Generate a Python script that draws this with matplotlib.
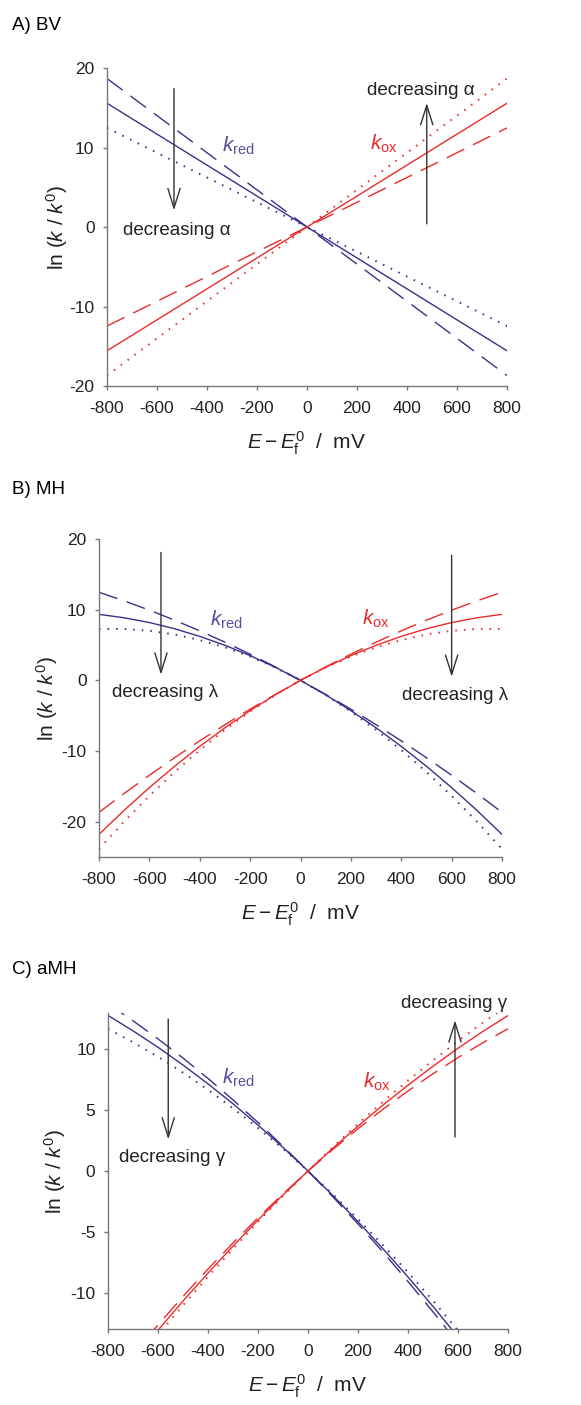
import numpy as np
import matplotlib
matplotlib.use("Agg")
from matplotlib import pyplot as plt

plt.rcParams['font.family'] = ['Liberation Sans', 'DejaVu Sans']
plt.rcParams['mathtext.fontset'] = 'custom'
plt.rcParams['mathtext.rm'] = 'Liberation Sans'
plt.rcParams['mathtext.it'] = 'Liberation Sans:italic'
plt.rcParams['axes.unicode_minus'] = False

# %% potenciales (mV)
E_mV = [-800, -700, -600, -500, -400, -300, -200, -100, 0,
        100, 200, 300, 400, 500, 600, 700, 800]

# %% A) Butler-Volmer, alpha = 0.6 / 0.5 / 0.4
bv_red_a06 = [18.68, 16.34, 14.01, 11.68, 9.34, 7.01, 4.67, 2.34, 0,
              -2.34, -4.67, -7.01, -9.34, -11.68, -14.01, -16.34, -18.68]
bv_red_a05 = [15.57, 13.62, 11.68, 9.73, 7.78, 5.84, 3.89, 1.95, 0,
              -1.95, -3.89, -5.84, -7.78, -9.73, -11.68, -13.62, -15.57]
bv_red_a04 = [12.46, 10.90, 9.34, 7.78, 6.23, 4.67, 3.11, 1.56, 0,
              -1.56, -3.11, -4.67, -6.23, -7.78, -9.34, -10.90, -12.46]
bv_ox_a06 = [-12.46, -10.90, -9.34, -7.78, -6.23, -4.67, -3.11, -1.56, 0,
             1.56, 3.11, 4.67, 6.23, 7.78, 9.34, 10.90, 12.46]
bv_ox_a05 = [-15.57, -13.62, -11.68, -9.73, -7.78, -5.84, -3.89, -1.95, 0,
             1.95, 3.89, 5.84, 7.78, 9.73, 11.68, 13.62, 15.57]
bv_ox_a04 = [-18.68, -16.34, -14.01, -11.68, -9.34, -7.01, -4.67, -2.34, 0,
             2.34, 4.67, 7.01, 9.34, 11.68, 14.01, 16.34, 18.68]

# %% B) Marcus-Hush, lambda = 2 / 1 / 0.75 eV
mh_red_l2 = [12.46, 11.24, 9.93, 8.51, 7.00, 5.40, 3.70, 1.90, 0,
             -2.00, -4.08, -6.28, -8.56, -10.95, -13.43, -16.00, -18.68]
mh_red_l1 = [9.34, 8.85, 8.18, 7.30, 6.22, 4.96, 3.50, 1.85, 0,
             -2.05, -4.28, -6.72, -9.34, -12.16, -15.18, -18.39, -21.80]
mh_red_l075 = [7.27, 7.27, 7.01, 6.49, 5.70, 4.67, 3.37, 1.82, 0,
               -2.08, -4.41, -7.01, -9.86, -12.97, -16.35, -19.97, -23.87]
mh_ox_l2 = [-18.68, -16.00, -13.43, -10.95, -8.56, -6.28, -4.08, -2.00, 0,
            1.90, 3.70, 5.40, 7.00, 8.51, 9.93, 11.24, 12.46]
mh_ox_l1 = [-21.80, -18.39, -15.18, -12.16, -9.34, -6.72, -4.28, -2.05, 0,
            1.85, 3.50, 4.96, 6.22, 7.30, 8.18, 8.85, 9.34]
mh_ox_l075 = [-23.87, -19.97, -16.35, -12.97, -9.86, -7.01, -4.41, -2.08, 0,
              1.82, 3.37, 4.67, 5.70, 6.49, 7.01, 7.27, 7.27]

# %% C) MH asimetrico, gamma alto / medio / bajo
amh_red_g1 = [13.76, 12.36, 10.87, 9.29, 7.62, 5.85, 3.99, 2.04, 0,
              -2.14, -4.35, -6.67, -9.09, -11.59, -14.17, -16.86, -19.64]
amh_red_g2 = [12.80, 11.53, 10.18, 8.72, 7.17, 5.53, 3.78, 1.94, 0,
              -2.03, -4.17, -6.40, -8.72, -11.14, -13.66, -16.28, -19.00]
amh_red_g3 = [11.70, 10.59, 9.40, 8.09, 6.68, 5.16, 3.54, 1.83, 0,
              -1.93, -3.96, -6.10, -8.34, -10.67, -13.12, -15.67, -18.32]
amh_ox_g1 = [-17.62, -15.10, -12.67, -10.32, -8.07, -5.92, -3.85, -1.88, 0,
             1.78, 3.48, 5.08, 6.59, 8.00, 9.33, 10.56, 11.70]
amh_ox_g2 = [-18.13, -15.57, -13.10, -10.70, -8.40, -6.18, -4.03, -1.97, 0,
             1.89, 3.69, 5.43, 7.06, 8.62, 10.10, 11.49, 12.79]
amh_ox_g3 = [-18.62, -16.02, -13.50, -11.05, -8.69, -6.40, -4.19, -2.06, 0,
             1.98, 3.88, 5.70, 7.45, 9.10, 10.70, 12.21, 13.64]

BLUE = '#3b3088'
BLUE_TXT = '#5a4c9e'
RED = '#ec2b2b'
AX_COL = '#777777'
ARROW = '#333333'

DASH = (0, (14, 7))
DOT = (0, (0.8, 3.6))


def setup_axes(ax, ylim, yticks, ylab_x):
    ax.set_xlim(-800, 800)
    ax.set_ylim(*ylim)
    ax.set_xticks(np.arange(-800, 801, 200))
    ax.set_yticks(yticks)
    for s in ['top', 'right']:
        ax.spines[s].set_visible(False)
    for s in ['left', 'bottom']:
        ax.spines[s].set_color(AX_COL)
        ax.spines[s].set_linewidth(1.0)
    ax.tick_params(axis='both', direction='out', length=3, width=1.0,
                   color=AX_COL, labelsize=12.5, labelcolor='#222222')
    ax.tick_params(axis='x', pad=8)
    ax.tick_params(axis='y', pad=6)
    ax.set_xlabel(r'$E - E_{\rm f}^{0}$  /  mV', fontsize=15, color='#222222')
    ax.set_ylabel(r'ln ($k$ / $k^{0}$)', fontsize=15, color='#222222')
    ax.xaxis.label.set_va('center')
    ax.yaxis.label.set_va('center')
    ax.xaxis.set_label_coords(0.5, -0.18)
    ax.yaxis.set_label_coords(ylab_x, 0.5)


def draw_set(ax, red_sets, ox_sets):
    for y, ls in zip(red_sets, ['-', DASH, DOT]):
        lw = 1.4 if ls is DOT else 1.0
        ax.plot(E_mV, y, color=BLUE, linestyle=ls, lw=lw, clip_on=True)
    for y, ls in zip(ox_sets, ['-', DASH, DOT]):
        lw = 1.4 if ls is DOT else 1.0
        ax.plot(E_mV, y, color=RED, linestyle=ls, lw=lw, clip_on=True)


def arrow(ax, tail, tip):
    ax.annotate('', xy=tip, xytext=tail,
                arrowprops=dict(arrowstyle='->,head_length=0.7,head_width=0.22',
                                color=ARROW, lw=1.0, shrinkA=0, shrinkB=0,
                                mutation_scale=20))


fig = plt.figure(figsize=(5.81, 14.05), dpi=100)

# %% panel A
axA = fig.add_axes([107 / 581, 1 - 386 / 1405, 400 / 581, 318 / 1405])
draw_set(axA, [bv_red_a05, bv_red_a06, bv_red_a04], [bv_ox_a05, bv_ox_a06, bv_ox_a04])
setup_axes(axA, (-20, 20), [-20, -10, 0, 10, 20], -0.125)
arrow(axA, (-532, 17.4), (-532, 2.1))
arrow(axA, (479, 0.4), (479, 15.6))
axA.text(-736, -0.4, 'decreasing α', fontsize=13.5, va='center', ha='left', color='#222222')
axA.text(240, 17.2, 'decreasing α', fontsize=13.5, va='center', ha='left', color='#222222')
axA.text(-276, 10.2, r'$k_{\rm red}$', fontsize=15, color=BLUE_TXT, ha='center', va='center')
axA.text(308, 10.4, r'$k_{\rm ox}$', fontsize=15, color=RED, ha='center', va='center')
fig.text(12 / 581, 1 - 25 / 1405, 'A) BV', fontsize=13.5, va='center', ha='left')

# %% panel B
axB = fig.add_axes([99 / 581, 1 - 857 / 1405, 403 / 581, 318 / 1405])
draw_set(axB, [mh_red_l1, mh_red_l2, mh_red_l075], [mh_ox_l1, mh_ox_l2, mh_ox_l075])
setup_axes(axB, (-25, 20), [-20, -10, 0, 10, 20], -0.129)
arrow(axB, (-554, 18.1), (-554, 0.8))
arrow(axB, (600, 17.7), (600, 0.5))
axB.text(-750, -1.75, 'decreasing λ', fontsize=13.5, va='center', ha='left', color='#222222')
axB.text(402, -2.1, 'decreasing λ', fontsize=13.5, va='center', ha='left', color='#222222')
axB.text(-293, 8.5, r'$k_{\rm red}$', fontsize=15, color=BLUE_TXT, ha='center', va='center')
axB.text(300, 8.75, r'$k_{\rm ox}$', fontsize=15, color=RED, ha='center', va='center')
fig.text(12 / 581, 1 - 489 / 1405, 'B) MH', fontsize=13.5, va='center', ha='left')

# %% panel C
axC = fig.add_axes([108 / 581, 1 - 1329 / 1405, 400 / 581, 316 / 1405])
draw_set(axC, [amh_red_g2, amh_red_g1, amh_red_g3], [amh_ox_g2, amh_ox_g1, amh_ox_g3])
setup_axes(axC, (-13, 13), [-10, -5, 0, 5, 10], -0.1325)
arrow(axC, (-559, 12.5), (-559, 2.6))
arrow(axC, (588, 2.8), (588, 12.4))
axC.text(-756, 1.1, 'decreasing γ', fontsize=13.5, va='center', ha='left', color='#222222')
axC.text(372, 13.75, 'decreasing γ', fontsize=13.5, va='center', ha='left', color='#222222',
         clip_on=False)
axC.text(-279, 7.7, r'$k_{\rm red}$', fontsize=15, color=BLUE_TXT, ha='center', va='center')
axC.text(275, 7.3, r'$k_{\rm ox}$', fontsize=15, color=RED, ha='center', va='center')
fig.text(12 / 581, 1 - 969 / 1405, 'C) aMH', fontsize=13.5, va='center', ha='left')

fig.savefig('out.png', dpi=100)
